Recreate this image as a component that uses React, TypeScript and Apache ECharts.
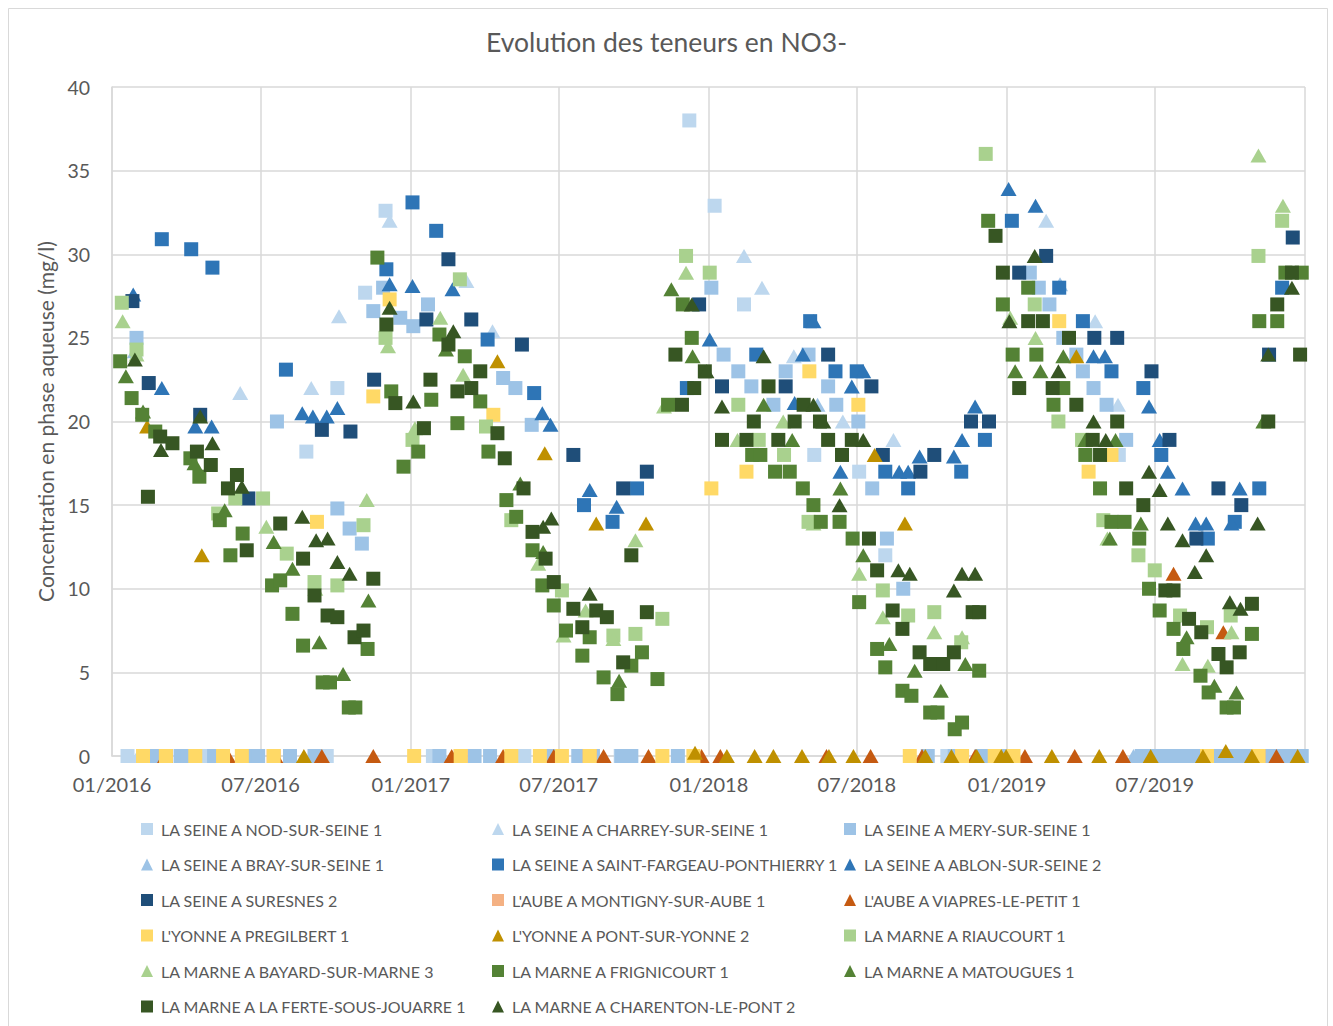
import React, { useEffect, useRef } from "react";
import * as echarts from "echarts";

type Pt = [string, number];

const LABEL_TICKS = ["2016-01-01", "2016-07-01", "2017-01-01", "2017-07-01", "2018-01-01", "2018-07-01", "2019-01-01", "2019-07-01"];
const GRID_TICKS = [...LABEL_TICKS, "2020-01-01"];

const nod: Pt[] = [["2016-01-20", 0], ["2016-04-25", 0], ["2016-08-26", 18.2], ["2016-09-20", 0], ["2016-10-03", 22.0], ["2016-11-06", 27.7], ["2016-12-01", 32.6], ["2017-01-28", 0], ["2017-05-20", 0], ["2017-09-15", 0], ["2017-12-08", 38.0], ["2018-01-08", 32.9], ["2018-02-13", 27.0], ["2018-05-10", 18.0], ["2018-07-04", 17.0], ["2018-08-05", 12.0], ["2018-10-20", 0], ["2019-05-18", 18.0], ["2019-08-01", 0], ["2019-10-15", 0]];
const charrey: Pt[] = [["2016-02-02", 0], ["2016-06-06", 21.7], ["2016-09-01", 22.0], ["2016-10-05", 26.3], ["2016-12-06", 32.0], ["2017-03-10", 28.4], ["2017-04-11", 25.4], ["2018-02-13", 29.9], ["2018-03-07", 28.0], ["2018-04-15", 23.9], ["2018-06-14", 20.0], ["2018-08-15", 18.9], ["2019-02-18", 32.0], ["2019-04-19", 26.0], ["2019-05-17", 21.0]];
const mery: Pt[] = [["2016-01-31", 25.0], ["2016-02-20", 0], ["2016-03-25", 0], ["2016-04-03", 0], ["2016-05-05", 0], ["2016-06-20", 0], ["2016-06-28", 0], ["2016-07-21", 20.0], ["2016-08-06", 0], ["2016-09-05", 0], ["2016-10-03", 14.8], ["2016-10-18", 13.6], ["2016-11-02", 12.7], ["2016-11-16", 26.6], ["2016-11-28", 28.0], ["2016-12-19", 26.2], ["2017-01-04", 25.7], ["2017-01-22", 27.0], ["2017-02-05", 0], ["2017-03-20", 0], ["2017-04-08", 0], ["2017-04-24", 22.6], ["2017-05-09", 22.0], ["2017-05-29", 19.8], ["2017-06-20", 0], ["2017-07-25", 0], ["2017-08-12", 0], ["2017-09-16", 0], ["2017-09-28", 0], ["2017-11-24", 0], ["2018-01-04", 28.0], ["2018-01-19", 24.0], ["2018-02-06", 23.0], ["2018-02-22", 22.1], ["2018-03-21", 21.0], ["2018-04-05", 23.0], ["2018-05-03", 24.0], ["2018-05-27", 22.1], ["2018-06-06", 21.0], ["2018-07-03", 20.0], ["2018-07-20", 16.0], ["2018-08-07", 13.0], ["2018-08-27", 10.0], ["2018-09-26", 0], ["2018-10-29", 0], ["2018-12-01", 0], ["2018-12-29", 0], ["2019-01-29", 28.9], ["2019-02-09", 28.0], ["2019-02-22", 27.0], ["2019-03-11", 25.0], ["2019-03-27", 24.0], ["2019-04-04", 23.0], ["2019-04-17", 22.0], ["2019-05-03", 21.0], ["2019-05-27", 18.9], ["2019-06-15", 0], ["2019-06-25", 0], ["2019-07-07", 0], ["2019-07-19", 0], ["2019-08-01", 0], ["2019-08-13", 0], ["2019-08-25", 0], ["2019-09-05", 0], ["2019-09-18", 0], ["2019-10-02", 0], ["2019-10-16", 0], ["2019-10-30", 0], ["2019-11-12", 0], ["2019-11-26", 0], ["2019-12-07", 0], ["2019-12-19", 0], ["2019-12-28", 0]];
const bray: Pt[] = [["2016-01-29", 24.2], ["2018-05-14", 21.0], ["2019-03-07", 28.2], ["2019-06-05", 0], ["2019-10-20", 0]];
const saintFargeau: Pt[] = [["2016-03-02", 30.9], ["2016-04-07", 30.3], ["2016-05-03", 29.2], ["2016-08-01", 23.1], ["2016-12-02", 29.1], ["2017-01-03", 33.1], ["2017-02-01", 31.4], ["2017-04-05", 24.9], ["2017-06-01", 21.7], ["2017-08-01", 15.0], ["2017-09-05", 14.0], ["2017-10-05", 16.0], ["2017-12-05", 22.0], ["2018-02-28", 24.0], ["2018-05-05", 26.0], ["2018-06-05", 23.0], ["2018-07-01", 23.0], ["2018-08-05", 17.0], ["2018-09-02", 16.0], ["2018-11-06", 17.0], ["2018-12-05", 18.9], ["2019-01-07", 32.0], ["2019-03-06", 28.0], ["2019-04-04", 26.0], ["2019-05-09", 23.0], ["2019-06-17", 22.0], ["2019-07-09", 18.0], ["2019-09-04", 13.0], ["2019-10-07", 14.0], ["2019-11-06", 16.0], ["2019-12-04", 28.0]];
const ablon: Pt[] = [["2016-01-27", 27.6], ["2016-03-02", 22.0], ["2016-04-12", 19.7], ["2016-05-02", 19.7], ["2016-08-21", 20.5], ["2016-09-03", 20.3], ["2016-09-20", 20.3], ["2016-10-03", 20.8], ["2016-12-06", 28.2], ["2017-01-03", 28.1], ["2017-02-21", 27.9], ["2017-06-11", 20.5], ["2017-06-21", 19.8], ["2017-08-08", 15.9], ["2017-09-10", 14.9], ["2018-01-02", 24.9], ["2018-04-16", 21.1], ["2018-04-26", 24.0], ["2018-05-09", 26.0], ["2018-06-11", 17.0], ["2018-06-25", 22.1], ["2018-07-09", 23.0], ["2018-08-22", 17.0], ["2018-09-02", 17.0], ["2018-09-16", 17.9], ["2018-10-28", 17.9], ["2018-11-07", 18.9], ["2018-11-23", 20.9], ["2019-01-03", 33.9], ["2019-02-05", 32.9], ["2019-04-17", 23.9], ["2019-05-01", 23.9], ["2019-06-24", 20.9], ["2019-07-07", 18.9], ["2019-07-17", 17.0], ["2019-08-04", 16.0], ["2019-08-20", 13.9], ["2019-09-02", 13.9], ["2019-10-03", 13.9], ["2019-10-13", 16.0]];
const suresnes: Pt[] = [["2016-01-26", 27.2], ["2016-02-15", 22.3], ["2016-04-18", 20.4], ["2016-06-16", 15.4], ["2016-09-14", 19.5], ["2016-10-19", 19.4], ["2016-11-17", 22.5], ["2017-01-20", 26.1], ["2017-02-16", 29.7], ["2017-03-16", 26.1], ["2017-05-17", 24.6], ["2017-07-19", 18.0], ["2017-09-18", 16.0], ["2017-10-17", 17.0], ["2017-12-20", 27.0], ["2018-01-17", 22.1], ["2018-04-05", 22.1], ["2018-05-27", 24.0], ["2018-07-19", 22.1], ["2018-08-02", 18.0], ["2018-09-17", 17.0], ["2018-10-04", 18.0], ["2018-11-18", 20.0], ["2018-12-10", 20.0], ["2019-01-16", 28.9], ["2019-02-18", 29.9], ["2019-04-18", 25.0], ["2019-05-16", 25.0], ["2019-06-27", 23.0], ["2019-07-19", 18.9], ["2019-08-21", 13.0], ["2019-09-17", 16.0], ["2019-10-15", 15.0], ["2019-11-18", 24.0], ["2019-12-17", 31.0]];
const montigny: Pt[] = [["2016-03-07", 0], ["2016-07-17", 0], ["2017-03-03", 0], ["2017-08-08", 0], ["2018-11-07", 0], ["2019-11-05", 0]];
const viapres: Pt[] = [["2016-03-06", 0], ["2016-05-22", 0], ["2016-07-19", 0], ["2016-09-14", 0], ["2016-11-16", 0], ["2017-02-20", 0], ["2017-04-24", 0], ["2017-06-25", 0], ["2017-08-25", 0], ["2017-10-19", 0], ["2017-12-23", 0], ["2018-01-15", 0], ["2018-05-25", 0], ["2018-07-18", 0], ["2018-09-19", 0], ["2018-11-23", 0], ["2019-01-23", 0], ["2019-03-25", 0], ["2019-05-23", 0], ["2019-07-24", 10.9], ["2019-09-23", 7.4], ["2019-11-27", 0]];
const pregilbert: Pt[] = [["2016-02-08", 0], ["2016-03-07", 0], ["2016-04-12", 0], ["2016-05-16", 0], ["2016-06-08", 0], ["2016-07-17", 0], ["2016-09-08", 14.0], ["2016-11-16", 21.5], ["2016-12-06", 27.3], ["2017-01-05", 0], ["2017-03-03", 0], ["2017-04-12", 20.4], ["2017-05-04", 0], ["2017-06-08", 0], ["2017-07-05", 0], ["2017-08-08", 0], ["2017-11-05", 0], ["2017-12-13", 0], ["2018-01-04", 16.0], ["2018-02-16", 17.0], ["2018-05-04", 23.0], ["2018-07-03", 21.0], ["2018-09-04", 0], ["2018-11-07", 0], ["2018-12-17", 0], ["2019-01-09", 0], ["2019-03-06", 26.0], ["2019-04-11", 17.0], ["2019-05-09", 18.0], ["2019-09-03", 0], ["2019-11-05", 0]];
const pontSurYonne: Pt[] = [["2016-02-13", 19.7], ["2016-04-20", 12.0], ["2016-08-23", 0], ["2017-04-17", 23.6], ["2017-06-14", 18.1], ["2017-08-16", 13.9], ["2017-10-16", 13.9], ["2017-12-15", 0.2], ["2018-01-23", 0], ["2018-02-26", 0], ["2018-03-21", 0], ["2018-04-25", 0], ["2018-05-28", 0], ["2018-06-27", 0], ["2018-07-23", 18.0], ["2018-08-29", 13.9], ["2018-09-23", 0], ["2018-10-25", 0], ["2018-11-25", 0], ["2018-12-25", 0], ["2018-12-31", 0], ["2019-02-25", 0], ["2019-03-27", 23.9], ["2019-04-24", 0], ["2019-06-26", 0], ["2019-08-29", 0], ["2019-09-26", 0.3], ["2019-10-28", 0], ["2019-12-23", 0]];
const riaucourt: Pt[] = [["2016-01-13", 27.1], ["2016-01-31", 24.3], ["2016-05-10", 14.5], ["2016-05-31", 15.4], ["2016-07-04", 15.4], ["2016-08-02", 12.1], ["2016-09-05", 10.4], ["2016-10-03", 10.2], ["2016-11-04", 13.8], ["2016-12-01", 25.0], ["2017-01-03", 18.9], ["2017-03-02", 28.5], ["2017-04-03", 19.7], ["2017-05-04", 14.1], ["2017-07-05", 9.9], ["2017-09-06", 7.2], ["2017-10-03", 7.3], ["2017-11-05", 8.2], ["2017-12-04", 29.9], ["2018-01-02", 28.9], ["2018-02-06", 21.0], ["2018-03-03", 18.9], ["2018-04-03", 18.0], ["2018-05-03", 14.0], ["2018-08-02", 9.9], ["2018-09-02", 8.4], ["2018-10-04", 8.6], ["2018-11-06", 6.8], ["2018-12-06", 36.0], ["2019-02-04", 27.0], ["2019-03-05", 20.0], ["2019-04-03", 18.9], ["2019-04-29", 14.1], ["2019-06-11", 12.0], ["2019-07-01", 11.1], ["2019-08-01", 8.4], ["2019-09-03", 7.7], ["2019-10-02", 8.4], ["2019-11-05", 29.9], ["2019-12-04", 32.0]];
const bayard: Pt[] = [["2016-01-14", 26.0], ["2016-01-31", 24.0], ["2016-07-08", 13.7], ["2016-09-06", 10.0], ["2016-11-08", 15.3], ["2016-12-04", 24.5], ["2017-01-06", 19.6], ["2017-02-06", 26.2], ["2017-03-06", 22.8], ["2017-06-06", 11.5], ["2017-07-07", 7.2], ["2017-08-03", 8.7], ["2017-09-06", 7.0], ["2017-10-03", 12.9], ["2017-11-07", 20.9], ["2017-12-04", 28.9], ["2018-02-05", 18.9], ["2018-04-02", 20.0], ["2018-05-09", 13.9], ["2018-07-04", 10.9], ["2018-08-02", 8.3], ["2018-10-04", 7.4], ["2018-11-07", 7.1], ["2019-01-05", 26.2], ["2019-02-05", 25.0], ["2019-05-04", 13.0], ["2019-08-04", 5.5], ["2019-09-04", 5.4], ["2019-10-03", 7.4], ["2019-11-05", 35.9], ["2019-12-05", 32.9]];
const frignicourt: Pt[] = [["2016-01-11", 23.6], ["2016-01-25", 21.4], ["2016-02-07", 20.4], ["2016-02-23", 19.4], ["2016-04-06", 17.8], ["2016-04-17", 16.7], ["2016-05-12", 14.1], ["2016-05-25", 12.0], ["2016-06-09", 13.3], ["2016-07-15", 10.2], ["2016-07-25", 10.5], ["2016-08-09", 8.5], ["2016-08-22", 6.6], ["2016-09-15", 4.4], ["2016-09-24", 4.4], ["2016-10-17", 2.9], ["2016-10-25", 2.9], ["2016-11-09", 6.4], ["2016-11-21", 29.8], ["2016-12-08", 21.8], ["2016-12-23", 17.3], ["2017-01-10", 18.2], ["2017-01-26", 21.3], ["2017-02-05", 25.2], ["2017-02-27", 19.9], ["2017-03-08", 23.9], ["2017-03-27", 21.2], ["2017-04-06", 18.2], ["2017-04-28", 15.3], ["2017-05-10", 14.3], ["2017-05-30", 12.3], ["2017-06-11", 10.2], ["2017-06-25", 9.0], ["2017-07-10", 7.5], ["2017-07-30", 6.0], ["2017-08-08", 7.1], ["2017-08-25", 4.7], ["2017-09-11", 3.7], ["2017-09-28", 5.4], ["2017-10-11", 6.2], ["2017-10-30", 4.6], ["2017-11-12", 21.0], ["2017-11-30", 27.0], ["2017-12-11", 25.0], ["2018-02-23", 18.0], ["2018-03-05", 18.0], ["2018-03-23", 17.0], ["2018-04-10", 17.0], ["2018-04-26", 16.0], ["2018-05-09", 15.0], ["2018-05-18", 14.0], ["2018-06-10", 14.0], ["2018-06-26", 13.0], ["2018-07-04", 9.2], ["2018-07-26", 6.4], ["2018-08-05", 5.3], ["2018-08-26", 3.9], ["2018-09-06", 3.6], ["2018-09-29", 2.6], ["2018-10-08", 2.6], ["2018-10-29", 1.6], ["2018-11-07", 2.0], ["2018-11-28", 5.1], ["2018-12-09", 32.0], ["2018-12-27", 27.0], ["2019-01-08", 24.0], ["2019-01-27", 28.0], ["2019-02-06", 24.0], ["2019-02-27", 21.0], ["2019-03-11", 22.0], ["2019-04-07", 18.0], ["2019-04-25", 16.0], ["2019-05-09", 14.0], ["2019-05-25", 14.0], ["2019-06-12", 13.0], ["2019-06-24", 10.0], ["2019-07-07", 8.7], ["2019-07-24", 7.6], ["2019-08-05", 6.4], ["2019-08-26", 4.8], ["2019-09-05", 3.8], ["2019-09-27", 2.9], ["2019-10-06", 2.9], ["2019-10-28", 7.3], ["2019-11-06", 26.0], ["2019-11-28", 26.0], ["2019-12-08", 28.9], ["2019-12-28", 28.9]];
const matougues: Pt[] = [["2016-01-18", 22.7], ["2016-02-08", 20.6], ["2016-04-11", 17.5], ["2016-05-18", 14.7], ["2016-07-17", 12.8], ["2016-08-09", 11.2], ["2016-09-11", 6.8], ["2016-10-10", 4.9], ["2016-11-10", 9.3], ["2017-02-13", 24.3], ["2017-05-15", 16.3], ["2017-06-12", 12.2], ["2017-09-13", 4.5], ["2017-11-16", 27.9], ["2017-12-12", 23.9], ["2018-03-09", 21.0], ["2018-04-13", 18.9], ["2018-06-11", 16.0], ["2018-07-09", 12.0], ["2018-08-10", 6.7], ["2018-09-10", 5.1], ["2018-10-12", 3.9], ["2018-11-11", 5.5], ["2019-01-11", 23.0], ["2019-02-11", 23.0], ["2019-03-11", 23.9], ["2019-04-07", 18.9], ["2019-05-07", 13.0], ["2019-05-14", 18.9], ["2019-06-14", 13.9], ["2019-08-09", 7.1], ["2019-09-12", 4.2], ["2019-10-09", 3.8], ["2019-11-11", 20.0]];
const fertesousJouarre: Pt[] = [["2016-02-14", 15.5], ["2016-02-29", 19.1], ["2016-03-15", 18.7], ["2016-04-14", 18.2], ["2016-05-01", 17.4], ["2016-05-22", 16.0], ["2016-06-02", 16.8], ["2016-06-14", 12.3], ["2016-07-25", 13.9], ["2016-08-22", 11.8], ["2016-09-05", 9.6], ["2016-09-21", 8.4], ["2016-10-03", 8.3], ["2016-10-24", 7.1], ["2016-11-04", 7.5], ["2016-11-16", 10.6], ["2016-12-02", 25.8], ["2016-12-13", 21.1], ["2017-01-17", 19.6], ["2017-01-25", 22.5], ["2017-02-16", 24.6], ["2017-02-27", 21.8], ["2017-03-16", 22.0], ["2017-03-27", 23.0], ["2017-04-17", 19.3], ["2017-04-26", 17.8], ["2017-05-19", 16.0], ["2017-05-30", 13.4], ["2017-06-15", 11.8], ["2017-06-25", 10.4], ["2017-07-19", 8.8], ["2017-07-30", 7.7], ["2017-08-16", 8.7], ["2017-08-29", 8.3], ["2017-09-18", 5.6], ["2017-09-28", 12.0], ["2017-10-17", 8.6], ["2017-11-21", 24.0], ["2017-11-29", 21.0], ["2017-12-14", 22.0], ["2017-12-27", 23.0], ["2018-01-17", 18.9], ["2018-02-16", 18.9], ["2018-02-25", 20.0], ["2018-03-15", 22.1], ["2018-03-27", 18.9], ["2018-04-16", 20.0], ["2018-04-27", 21.0], ["2018-05-17", 20.0], ["2018-05-27", 18.9], ["2018-06-13", 18.0], ["2018-06-25", 18.9], ["2018-07-16", 13.0], ["2018-07-26", 11.1], ["2018-08-14", 8.7], ["2018-08-26", 7.6], ["2018-09-16", 6.2], ["2018-09-29", 5.5], ["2018-10-15", 5.5], ["2018-10-28", 6.2], ["2018-11-20", 8.6], ["2018-11-28", 8.6], ["2018-12-18", 31.1], ["2018-12-27", 28.9], ["2019-01-16", 22.0], ["2019-01-27", 26.0], ["2019-02-14", 26.0], ["2019-02-26", 22.0], ["2019-03-18", 25.0], ["2019-03-27", 21.0], ["2019-04-16", 18.9], ["2019-04-25", 18.0], ["2019-05-16", 20.0], ["2019-05-27", 16.0], ["2019-06-17", 15.0], ["2019-07-14", 9.9], ["2019-07-24", 9.9], ["2019-08-12", 8.2], ["2019-08-27", 7.4], ["2019-09-17", 6.1], ["2019-09-27", 5.3], ["2019-10-13", 6.2], ["2019-10-28", 9.1], ["2019-11-17", 20.0], ["2019-11-28", 27.0], ["2019-12-16", 28.9], ["2019-12-26", 24.0]];
const charenton: Pt[] = [["2016-01-29", 23.7], ["2016-03-01", 18.3], ["2016-04-18", 20.3], ["2016-05-03", 18.7], ["2016-06-08", 16.1], ["2016-08-21", 14.3], ["2016-09-07", 12.9], ["2016-09-21", 13.0], ["2016-10-03", 11.6], ["2016-10-18", 10.9], ["2016-12-06", 26.8], ["2017-01-04", 21.2], ["2017-02-22", 25.4], ["2017-06-12", 13.7], ["2017-06-22", 14.2], ["2017-08-08", 9.7], ["2017-12-11", 27.0], ["2017-12-29", 23.0], ["2018-01-17", 20.9], ["2018-03-09", 23.9], ["2018-05-09", 21.0], ["2018-05-21", 20.0], ["2018-06-10", 15.0], ["2018-07-09", 18.9], ["2018-08-21", 11.1], ["2018-09-04", 10.9], ["2018-10-28", 9.9], ["2018-11-07", 10.9], ["2018-11-23", 10.9], ["2019-01-04", 26.0], ["2019-02-04", 29.9], ["2019-03-05", 23.0], ["2019-04-17", 20.0], ["2019-05-02", 18.9], ["2019-06-24", 17.0], ["2019-07-07", 15.9], ["2019-07-17", 13.9], ["2019-08-04", 12.9], ["2019-08-19", 11.0], ["2019-09-02", 12.0], ["2019-10-01", 9.2], ["2019-10-14", 8.8], ["2019-11-04", 13.9], ["2019-11-17", 24.0], ["2019-12-16", 28.0]];

const SERIES_NAMES = [
  "LA SEINE A NOD-SUR-SEINE 1",
  "LA SEINE A CHARREY-SUR-SEINE 1",
  "LA SEINE A MERY-SUR-SEINE 1",
  "LA SEINE A BRAY-SUR-SEINE 1",
  "LA SEINE A SAINT-FARGEAU-PONTHIERRY 1",
  "LA SEINE A ABLON-SUR-SEINE 2",
  "LA SEINE A SURESNES 2",
  "L'AUBE A MONTIGNY-SUR-AUBE 1",
  "L'AUBE A VIAPRES-LE-PETIT 1",
  "L'YONNE A PREGILBERT 1",
  "L'YONNE A PONT-SUR-YONNE 2",
  "LA MARNE A RIAUCOURT 1",
  "LA MARNE A BAYARD-SUR-MARNE 3",
  "LA MARNE A FRIGNICOURT 1",
  "LA MARNE A MATOUGUES 1",
  "LA MARNE A LA FERTE-SOUS-JOUARRE 1",
  "LA MARNE A CHARENTON-LE-PONT 2",
];
const SERIES_DATA: Pt[][] = [nod, charrey, mery, bray, saintFargeau, ablon, suresnes, montigny, viapres, pregilbert, pontSurYonne, riaucourt, bayard, frignicourt, matougues, fertesousJouarre, charenton];
const SERIES_COLORS = ["#BDD7EE", "#BDD7EE", "#9DC3E6", "#9DC3E6", "#2E75B6", "#2E75B6", "#1F4E79", "#F4B183", "#C55A11", "#FFD966", "#BF9000", "#A9D18E", "#A9D18E", "#548235", "#548235", "#375623", "#375623"];
const SERIES_SHAPES = ["sq", "tri", "sq", "tri", "sq", "tri", "sq", "sq", "tri", "sq", "tri", "sq", "tri", "sq", "tri", "sq", "tri"];

const TEXT = "#595959";
const GRIDC = "#D9D9D9";
const FONT = "Lato";

const toMs = (d: string) => Date.parse(d + "T00:00:00Z");
const pad = (n: number) => (n < 10 ? "0" + n : "" + n);

export default function App() {
  const ref = useRef<HTMLDivElement>(null);
  useEffect(() => {
    if (!ref.current) return;
    const chart = echarts.init(ref.current, undefined, { renderer: "svg" });
    const series = SERIES_NAMES.map((name, i) => ({
      type: "scatter",
      name,
      data: SERIES_DATA[i].map(([d, v]) => [toMs(d), v]),
      symbol: SERIES_SHAPES[i] === "sq" ? "rect" : "triangle",
      symbolSize: SERIES_SHAPES[i] === "sq" ? [14, 14] : [16, 14],
      itemStyle: { color: SERIES_COLORS[i], opacity: 1 },
      clip: false,
      emphasis: { disabled: true },
    }));
    const cols = [0, 1, 2].map((c) => SERIES_NAMES.map((n, i) => ({ n, i })).filter((o) => o.i % 3 === c));
    const legendLefts = [141, 492, 844];
    const legends = cols.map((col, c) => ({
      orient: "vertical",
      left: legendLefts[c],
      top: 821,
      padding: 0,
      itemWidth: 12,
      itemHeight: 12,
      itemGap: 19.5,
      selectedMode: false,
      textStyle: { color: TEXT, fontSize: 16, fontFamily: FONT, lineHeight: 16, padding: [0, 0, 0, 3] },
      data: col.map((o) => ({ name: o.n, icon: SERIES_SHAPES[o.i] === "sq" ? "rect" : "triangle" })),
    }));
    chart.setOption({
      animation: false,
      textStyle: { fontFamily: FONT },
      title: {
        text: "Evolution des teneurs en NO3-",
        left: "center",
        top: 28,
        padding: 0,
        textStyle: { color: TEXT, fontSize: 26.5, fontWeight: "normal", fontFamily: FONT },
      },
      graphic: [
        {
          type: "rect",
          silent: true,
          z: -10,
          shape: { x: 8.5, y: 8.5, width: 1319, height: 1040 },
          style: { fill: "none", stroke: GRIDC, lineWidth: 1 },
        },
      ],
      legend: legends,
      grid: { left: 112, right: 28, top: 87, bottom: 270, containLabel: false },
      xAxis: {
        type: "value",
        min: toMs("2016-01-01"),
        max: toMs("2020-01-01"),
        axisLine: { show: true, lineStyle: { color: GRIDC, width: 1.5 } },
        axisTick: { show: false, customValues: GRID_TICKS.map(toMs) },
        axisLabel: {
          customValues: LABEL_TICKS.map(toMs),
          color: TEXT,
          fontSize: 20,
          fontFamily: FONT,
          margin: 18,
          formatter: (v: number) => {
            const d = new Date(v);
            return pad(d.getUTCMonth() + 1) + "/" + d.getUTCFullYear();
          },
        },
        splitLine: { show: true, lineStyle: { color: GRIDC, width: 1.5 } },
      },
      yAxis: {
        type: "value",
        min: 0,
        max: 40,
        interval: 5,
        name: "Concentration en phase aqueuse (mg/l)",
        nameLocation: "middle",
        nameGap: 55,
        nameTextStyle: { color: TEXT, fontSize: 21, fontFamily: FONT },
        axisLine: { show: true, lineStyle: { color: GRIDC, width: 1.5 } },
        axisTick: { show: false },
        axisLabel: { color: TEXT, fontSize: 19.5, fontFamily: FONT, margin: 22 },
        splitLine: { show: true, lineStyle: { color: GRIDC, width: 1.5 } },
      },
      series,
    });
    return () => chart.dispose();
  }, []);
  return <div ref={ref} style={{ position: "fixed", left: 0, top: 0, width: 1333, height: 1026, background: "#fff" }} />;
}
